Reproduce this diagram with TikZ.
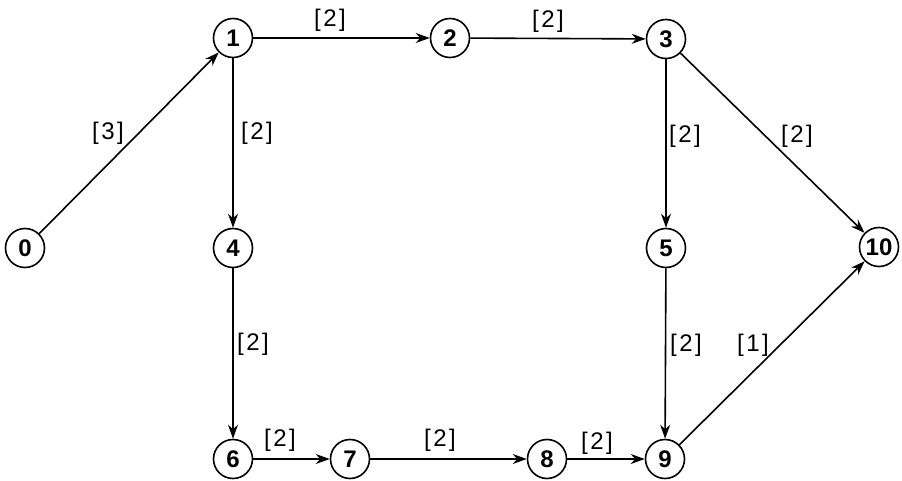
\documentclass[tikz,border=0pt]{standalone}
\usepackage{fontspec}
\setmainfont{Liberation Sans}
\usetikzlibrary{arrows.meta}
\newcommand{\wt}[1]{[\hspace{2.5pt}#1\hspace{2.5pt}]}
\begin{document}
\begin{tikzpicture}[x=1pt,y=-1pt,
  ev/.style={circle,draw,line width=1.6pt,minimum size=39pt,inner sep=0pt,font=\fontsize{24}{24}\selectfont\bfseries},
  act/.style={line width=1.6pt,-{Stealth[length=14pt,width=10pt]}},
  lab/.style={font=\fontsize{24}{24}\selectfont,inner sep=0pt}]
\useasboundingbox (0,0) rectangle (902,481);
\node[ev] (n0) at (25,248) {0};
\node[ev] (n1) at (233,38) {1};
\node[ev] (n2) at (450,38) {2};
\node[ev] (n3) at (666,39) {3};
\node[ev] (n4) at (233,248) {4};
\node[ev] (n5) at (666,248) {5};
\node[ev] (n10) at (879,247) {10};
\node[ev] (n6) at (233,459) {6};
\node[ev] (n7) at (350,459) {7};
\node[ev] (n8) at (547,459) {8};
\node[ev] (n9) at (665,459) {9};
\draw[act] (n0) -- (n1);
\draw[act] (n1) -- (n2);
\draw[act] (n2) -- (n3);
\draw[act] (n1) -- (n4);
\draw[act] (n3) -- (n5);
\draw[act] (n3) -- (n10);
\draw[act] (n4) -- (n6);
\draw[act] (n6) -- (n7);
\draw[act] (n7) -- (n8);
\draw[act] (n8) -- (n9);
\draw[act] (n5) -- (n9);
\draw[act] (n9) -- (n10);
\node[lab] (l01) at (108,133) {\wt{3}};
\node[lab] (l12) at (330,20) {\wt{2}};
\node[lab] (l14) at (257,133) {\wt{2}};
\node[lab] (l23) at (548,21) {\wt{2}};
\node[lab] (l35) at (685,136) {\wt{2}};
\node[lab] (l310) at (797,136) {\wt{2}};
\node[lab] (l46) at (253,344) {\wt{2}};
\node[lab] (l67) at (280,440) {\wt{2}};
\node[lab] (l78) at (440,440) {\wt{2}};
\node[lab] (l89) at (597,443) {\wt{2}};
\node[lab] (l59) at (686,345) {\wt{2}};
\node[lab] (l910) at (753,345) {\wt{1}};
\end{tikzpicture}
\end{document}
